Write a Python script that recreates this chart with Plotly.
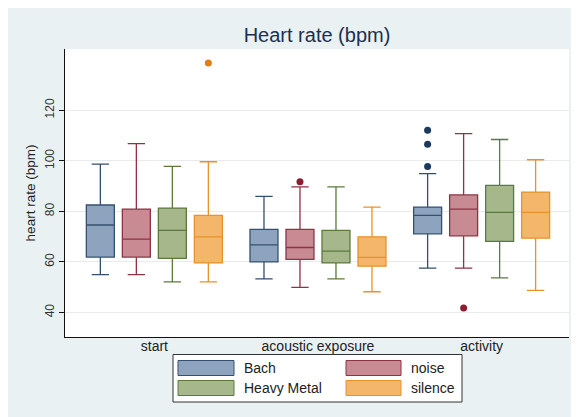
import plotly.graph_objects as go

# ---------------- data ----------------
groups = ["start", "acoustic exposure", "activity"]
series = ["Bach", "noise", "Heavy Metal", "silence"]

lower = {
    "Bach":        [55.0, 53.3, 57.5],
    "noise":       [55.0, 49.9, 57.5],
    "Heavy Metal": [52.1, 53.3, 53.7],
    "silence":     [52.1, 48.2, 48.7],
}
q1 = {
    "Bach":        [61.9, 60.0, 71.1],
    "noise":       [61.9, 61.0, 70.3],
    "Heavy Metal": [61.4, 59.6, 68.1],
    "silence":     [59.6, 58.3, 69.4],
}
median = {
    "Bach":        [74.6, 66.7, 78.4],
    "noise":       [69.0, 65.7, 80.9],
    "Heavy Metal": [72.5, 64.3, 79.6],
    "silence":     [69.9, 61.8, 79.6],
}
q3 = {
    "Bach":        [82.5, 72.9, 81.7],
    "noise":       [80.9, 72.9, 86.5],
    "Heavy Metal": [81.3, 72.5, 90.3],
    "silence":     [78.4, 69.9, 87.6],
}
upper = {
    "Bach":        [98.7, 85.9, 94.9],
    "noise":       [106.8, 89.7, 110.7],
    "Heavy Metal": [97.8, 89.7, 108.4],
    "silence":     [99.6, 81.7, 100.4],
}
# outliers: (group index, value)
outlier_group = {
    "Bach": [2, 2, 2],
    "noise": [1, 2],
    "Heavy Metal": [],
    "silence": [0],
}
outlier_value = {
    "Bach": [112.1, 106.5, 97.7],
    "noise": [91.7, 41.8],
    "Heavy Metal": [],
    "silence": [138.7],
}
y_ticks = [40, 60, 80, 100, 120]

# ---------------- styles ----------------
fill = {"Bach": "#8ea4be", "noise": "#c98b93", "Heavy Metal": "#a5b78b", "silence": "#f3b66b"}
edge = {"Bach": "#34506e", "noise": "#8c3444", "Heavy Metal": "#5d7a3e", "silence": "#e8922a"}
dot = {"Bach": "#1c3a5e", "noise": "#8a1f30", "Heavy Metal": "#4d6a2e", "silence": "#e07f12"}
offsets = [-0.33, -0.11, 0.11, 0.33]
box_w = 0.171

# page has an 8px body margin, so the figure starts at (8, 8) of the window
OFF = 8
W, H = 571, 409
ML, MR, MT, MB = 57, 10, 41, 80
PW, PH = W - ML - MR, H - MT - MB
FONT = "Liberation Sans, Arial, sans-serif"


def px(x):  # window pixel -> paper
    return (x - OFF - ML) / PW


def py(y):
    return (H - MB - (y - OFF)) / PH


fig = go.Figure()
idx = list(range(len(groups)))
for k, s in enumerate(series):
    xs = [g + offsets[k] for g in idx]
    fig.add_trace(go.Box(
        x=xs, q1=q1[s], median=median[s], q3=q3[s],
        lowerfence=lower[s], upperfence=upper[s],
        name=s, width=box_w, whiskerwidth=0.62,
        fillcolor=fill[s], line=dict(color=edge[s], width=1.3),
        boxpoints=False, showlegend=False, hoverinfo="skip",
    ))
    if outlier_value[s]:
        fig.add_trace(go.Scatter(
            x=[outlier_group[s][i] + offsets[k] for i in range(len(outlier_value[s]))],
            y=outlier_value[s], mode="markers",
            marker=dict(color=dot[s], size=7, symbol="circle"),
            showlegend=False, hoverinfo="skip",
        ))

shapes = [
    # legend box
    dict(type="rect", xref="paper", yref="paper", x0=px(173), x1=px(462), y0=py(402), y1=py(354.5),
         fillcolor="white", line=dict(color="#333333", width=1)),
]
annotations = []
leg_pos = [(178, 234, 368), (346, 401, 368), (178, 234, 388), (346, 401, 388)]
for s, (x0, x1, yc) in zip(series, leg_pos):
    shapes.append(dict(type="rect", xref="paper", yref="paper",
                       x0=px(x0), x1=px(x1), y0=py(yc + 7.5), y1=py(yc - 7.5),
                       fillcolor=fill[s], line=dict(color=edge[s], width=1)))
    annotations.append(dict(xref="paper", yref="paper", x=px(x1 + 8), y=py(yc),
                            text=s, showarrow=False, xanchor="left", yanchor="middle",
                            font=dict(family=FONT, size=14, color="#222222")))

fig.update_layout(
    width=W, height=H,
    margin=dict(l=ML, r=MR, t=MT, b=MB),
    paper_bgcolor="#eaf1f2", plot_bgcolor="white",
    title=dict(text="Heart rate (bpm)", x=(ML + PW / 2) / W, xanchor="center",
               y=1 - (35 - OFF) / H, yanchor="middle",
               font=dict(family=FONT, size=20, color="#1e2f50")),
    boxmode="overlay",
    shapes=shapes, annotations=annotations,
    showlegend=False,
)
fig.update_xaxes(
    range=[-0.546, 2.534], tickvals=idx, ticktext=groups,
    showgrid=False, zeroline=False, showline=True, linecolor="#111111", linewidth=1.3,
    ticks="", ticklabelstandoff=-4,
    tickfont=dict(family=FONT, size=14, color="#222222"),
)
fig.update_yaxes(
    range=[30.3, 144.2], tickvals=y_ticks, tickangle=-90,
    showgrid=True, gridcolor="#e9ebeb", gridwidth=1, zeroline=False,
    showline=True, linecolor="#111111", linewidth=1.3,
    ticks="outside", ticklen=5, tickcolor="#111111",
    tickfont=dict(family=FONT, size=12, color="#333333"),
    title=dict(text="heart rate (bpm)", standoff=4,
               font=dict(family=FONT, size=13.5, color="#222222")),
)
fig.write_html("out.html")
